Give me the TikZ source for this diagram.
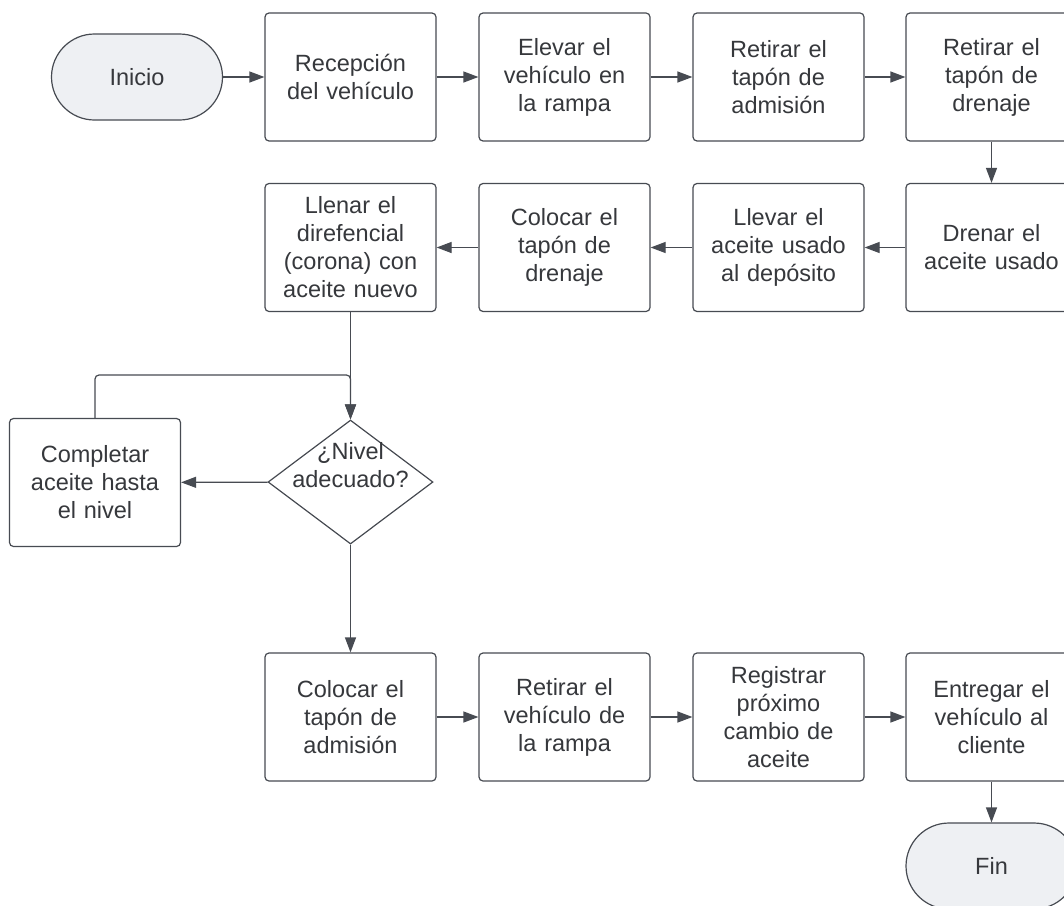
\documentclass[tikz,border=0pt]{standalone}
\usepackage{fontspec}
\setmainfont{Liberation Sans}
\usetikzlibrary{arrows.meta,shapes.geometric}
\definecolor{ln}{HTML}{474B52}
\definecolor{tx}{HTML}{36383C}
\definecolor{term}{HTML}{EEF0F3}
\tikzset{
  every node/.style={font=\fontsize{23.5}{28}\selectfont, text=tx},
  proc/.style={draw=ln, line width=1.2pt, rounded corners=4pt, fill=white,
    minimum width=171pt, minimum height=128pt, text width=160pt, align=center, inner sep=0pt},
  term/.style={draw=ln, line width=1.2pt, rounded corners=43pt, fill=term,
    minimum width=171pt, minimum height=86pt, align=center, inner sep=0pt},
  dec/.style={draw=ln, line width=1.2pt, diamond, fill=white, aspect=1.33,
    minimum width=165pt, minimum height=124pt, inner sep=0pt},
  arr/.style={draw=ln, line width=1.2pt, -{Triangle[length=15pt,width=11pt]}},
}
\begin{document}
\begin{tikzpicture}[x=1pt,y=-1pt]
\useasboundingbox (0,0) rectangle (1064,905);
\clip (0,0) rectangle (1064,905);
\fill[white] (0,0) rectangle (1064,905);
% row 1
\node[term] (ini) at (137,77) {Inicio};
\node[proc] (rec) at (350.5,77) {Recepción\\del vehículo};
\node[proc] (ele) at (564.5,77) {Elevar el\\vehículo en\\la rampa};
\node[proc] (rad) at (778.5,77) {Retirar el\\tapón de\\admisión};
\node[proc] (rdr) at (991.5,77) {Retirar el\\tapón de\\drenaje};
% row 2
\node[proc] (dre) at (991.5,247.5) {Drenar el\\aceite usado};
\node[proc] (lle) at (778.5,247.5) {Llevar el\\aceite usado\\al depósito};
\node[proc] (cdr) at (564.5,247.5) {Colocar el\\tapón de\\drenaje};
\node[proc] (lln) at (350.5,247.5) {Llenar el\\direfencial\\(corona) con\\aceite nuevo};
% decision
\node[dec] (niv) at (350.5,482) {\raisebox{8pt}[0pt][0pt]{\begin{tabular}{@{}c@{}}¿Nivel\\adecuado?\end{tabular}}};
\node[proc] (com) at (95,482.5) {Completar\\aceite hasta\\el nivel};
% row 3
\node[proc] (cad) at (350.5,717) {Colocar el\\tapón de\\admisión};
\node[proc] (ret) at (564.5,717) {Retirar el\\vehículo de\\la rampa};
\node[proc] (reg) at (778.5,717) {Registrar\\próximo\\cambio de\\aceite};
\node[proc] (ent) at (991.5,717) {Entregar el\\vehículo al\\cliente};
\node[term] (fin) at (991.5,866) {Fin};
% connectors
\draw[arr] (ini) -- (rec);
\draw[arr] (rec) -- (ele);
\draw[arr] (ele) -- (rad);
\draw[arr] (rad) -- (rdr);
\draw[arr] (rdr) -- (dre);
\draw[arr] (dre) -- (lle);
\draw[arr] (lle) -- (cdr);
\draw[arr] (cdr) -- (lln);
\draw[arr] (lln) -- (niv);
\draw[arr] (niv) -- (com);
\draw[arr, rounded corners=4pt] (com.north) |- (350.5,375) -- (niv.north);
\draw[arr] (niv) -- (cad);
\draw[arr] (cad) -- (ret);
\draw[arr] (ret) -- (reg);
\draw[arr] (reg) -- (ent);
\draw[arr] (ent) -- (fin);
\end{tikzpicture}
\end{document}
